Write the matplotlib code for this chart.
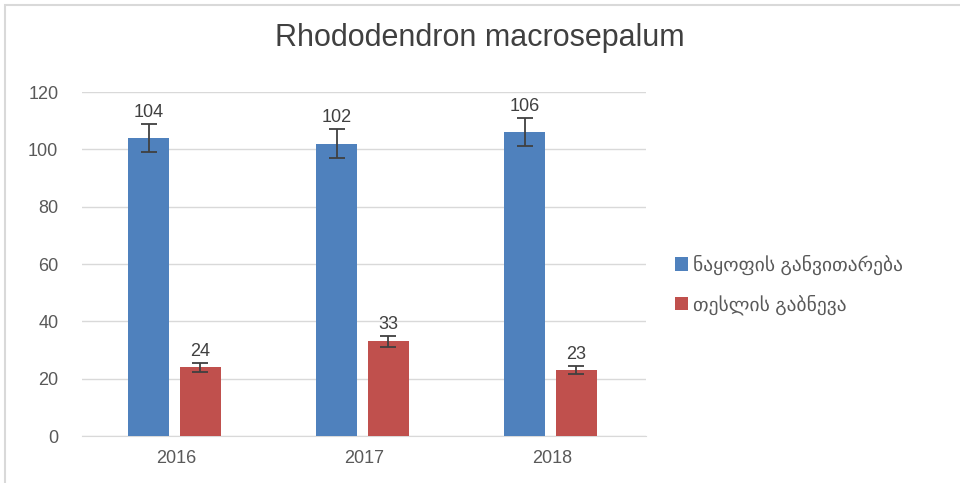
import numpy as np
import matplotlib.pyplot as plt
from matplotlib.patches import Rectangle

plt.rcParams['font.family'] = ['Liberation Sans', 'DejaVu Sans']

years = ['2016', '2017', '2018']
fruit = [104, 102, 106]
fruit_err = [5, 5, 5]
seed = [24, 33, 23]
seed_err = [1.5, 2, 1.5]
series_names = ['ნაყოფის განვითარება', 'თესლის გაბნევა']

fig = plt.figure(figsize=(9.6, 4.83), dpi=100)
ax = fig.add_axes([0.0854, 0.0973, 0.5875, 0.7122])

x = np.arange(len(years))
w = 0.22
err_kw = dict(ecolor='#404040', capsize=6, elinewidth=1.3, capthick=1.3)
b1 = ax.bar(x - 0.145, fruit, w, yerr=fruit_err, color='#4f81bd',
            label=series_names[0], error_kw=err_kw, zorder=3)
b2 = ax.bar(x + 0.13, seed, w, yerr=seed_err, color='#c0504d',
            label=series_names[1], error_kw=err_kw, zorder=3)

for bars, vals, errs in ((b1, fruit, fruit_err), (b2, seed, seed_err)):
    for rect, v, e in zip(bars, vals, errs):
        ax.annotate(str(v), (rect.get_x() + rect.get_width() / 2, v + e),
                    xytext=(0, 2), textcoords='offset points',
                    ha='center', va='bottom', fontsize=13, color='#404040')

ax.set_xlim(-0.5, 2.5)
ax.set_ylim(0, 120)
ax.set_yticks(range(0, 121, 20))
ax.set_xticks(x)
ax.set_xticklabels(years)
ax.grid(axis='y', color='#d9d9d9', linewidth=1, zorder=0)
for s in ('top', 'right', 'left'):
    ax.spines[s].set_visible(False)
ax.spines['bottom'].set_color('#d9d9d9')
ax.tick_params(axis='both', length=0, labelsize=13, colors='#595959')
ax.tick_params(axis='y', pad=17)
ax.tick_params(axis='x', pad=10)

fig.text(0.5, 0.922, 'Rhododendron macrosepalum', ha='center', va='center',
         fontsize=22, color='#404040')

ax.legend(loc='center left', bbox_to_anchor=(1.02, 0.44), frameon=False,
          fontsize=14, handlelength=0.7, handleheight=0.7,
          handletextpad=0.25, labelspacing=1.0, labelcolor='#595959')

fig.patches.append(Rectangle((0.005, -0.1), 1.2, 1.09, transform=fig.transFigure,
                             fill=False, edgecolor='#d9d9d9', linewidth=1.5))

fig.savefig('out.png', dpi=100)
